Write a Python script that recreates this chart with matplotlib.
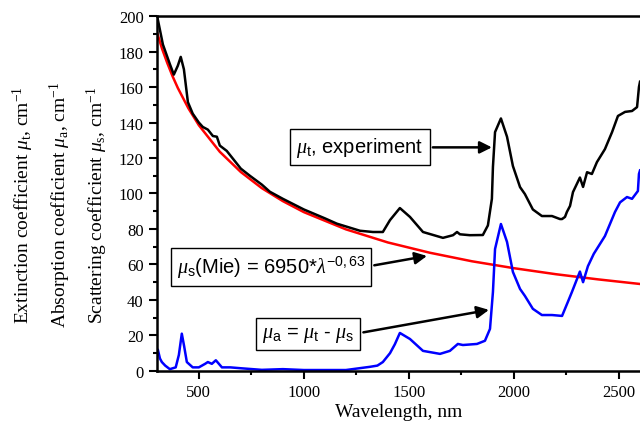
import matplotlib
matplotlib.use("Agg")
import matplotlib.pyplot as plt
from matplotlib.ticker import MultipleLocator

plt.rcParams['mathtext.fontset'] = 'custom'
plt.rcParams['mathtext.rm'] = 'Liberation Serif'
plt.rcParams['mathtext.it'] = 'Liberation Serif:italic'
plt.rcParams['mathtext.sf'] = 'Liberation Sans'

# extinction coefficient (experiment), black
wl_t = [300, 305, 329, 362, 381, 400, 414, 429, 448, 471, 500, 519, 543, 567, 586,
        600, 633, 700, 743, 800, 838, 900, 1000, 1100, 1157, 1267, 1329, 1376, 1410,
        1457, 1505, 1567, 1662, 1710, 1729, 1743, 1790, 1852, 1876, 1895, 1900, 1910,
        1938, 1967, 1995, 2029, 2052, 2090, 2133, 2181, 2219, 2229, 2243, 2252, 2267,
        2281, 2314, 2329, 2348, 2371, 2395, 2433, 2467, 2495, 2529, 2562, 2586, 2595,
        2600]
mu_t = [200, 198, 184, 173, 167, 172, 177, 170, 151.5, 145, 140, 137.5, 136, 132.4, 132,
        127, 124, 114, 110, 105, 101, 97, 91, 86, 83, 79, 78.3, 78.3, 85,
        91.8, 86.8, 78.3, 75, 76.5, 78.3, 77, 76.5, 76.6, 82, 97, 115, 134.6,
        142.3, 132, 115.5, 103.6, 99.7, 91, 87.3, 87.3, 85.6, 85.6, 86.8, 89.6, 93,
        100.8, 109, 103.7, 112, 111, 117.7, 125, 134.6, 143.7, 146, 146.5, 148.7, 160,
        163]

# absorption coefficient, blue
wl_a = [300, 305, 315, 324, 340, 362, 390, 405, 419, 430, 443, 471, 500, 530, 543,
        562, 581, 610, 650, 700, 800, 900, 1000, 1100, 1200, 1314, 1350, 1376, 1410,
        1433, 1457, 1505, 1567, 1648, 1695, 1733, 1757, 1824, 1862, 1886, 1900, 1910,
        1938, 1967, 1995, 2029, 2052, 2090, 2133, 2181, 2229, 2257, 2276, 2314, 2329,
        2352, 2380, 2433, 2481, 2505, 2538, 2562, 2590, 2595, 2600]
mu_a = [10, 12, 7, 5, 3, 1, 2, 9, 21, 14, 5, 2, 2, 4, 5,
        4, 6, 2, 2, 1.5, 0.6, 1, 0.5, 0.5, 0.5, 2.3, 3, 5, 10,
        15, 21.4, 18, 11.3, 9.6, 11.3, 15.2, 14.6, 15.2, 17, 23.7, 44.5, 68.7,
        82.8, 72.7, 55.8, 46.2, 42.3, 35, 31.5, 31.5, 31, 39, 44.5, 56, 50,
        59, 66, 76, 89.6, 95, 98, 97, 101.4, 111, 113]

# scattering coefficient (Mie fit), red
wl_s = [300, 325, 350, 375, 400, 450, 500, 600, 700, 800, 900, 1000, 1200, 1400,
        1600, 1800, 2000, 2200, 2400, 2600]
mu_s = [191.2, 181.6, 173.5, 166.1, 159.5, 148.1, 138.5, 123.5, 112.1, 103.0, 95.7,
        89.5, 79.8, 72.4, 66.6, 61.8, 57.9, 54.5, 51.6, 49.0]

fig = plt.figure(figsize=(6.4, 4.27), dpi=100)
ax = fig.add_axes([0.245, 0.129, 0.755, 0.831])

ax.plot(wl_s, mu_s, color='red', lw=1.8)
ax.plot(wl_t, mu_t, color='black', lw=1.8)
ax.plot(wl_a, mu_a, color='blue', lw=1.8)

ax.set_xlim(300, 2600)
ax.set_ylim(0, 200)
ax.xaxis.set_major_locator(MultipleLocator(500))
ax.xaxis.set_minor_locator(MultipleLocator(250))
ax.yaxis.set_major_locator(MultipleLocator(20))
ax.yaxis.set_minor_locator(MultipleLocator(10))
ax.tick_params(which='major', direction='out', length=6, width=1.5, labelsize=12)
ax.tick_params(which='minor', direction='out', length=3, width=1.5)
for lab in ax.get_xticklabels() + ax.get_yticklabels():
    lab.set_family('Liberation Serif')
for s in ['left', 'bottom', 'top']:
    ax.spines[s].set_linewidth(1.8)
ax.spines['right'].set_visible(False)

ax.set_xlabel('Wavelength, nm', family='Liberation Serif', fontsize=14, labelpad=2)

ylab = ['Extinction coefficient $\\mu_{\\mathrm{t}}$, cm$^{-1}$',
        'Absorption coefficient $\\mu_{\\mathrm{a}}$, cm$^{-1}$',
        'Scattering coefficient $\\mu_{\\mathrm{s}}$, cm$^{-1}$']
for xp, t in zip([0.037, 0.095, 0.152], ylab):
    fig.text(xp, 0.52, t, rotation=90, ha='center', va='center',
             family='Liberation Serif', fontsize=14)

box = dict(boxstyle='square,pad=0.3', fc='white', ec='black', lw=1)
arr = dict(arrowstyle='-|>', color='black', lw=1.8, mutation_scale=18,
           relpos=(1, 0.5), shrinkA=2, shrinkB=0)

ax.annotate('$\\mu_{\\mathsf{t}}$, experiment', xy=(1895, 126), xytext=(1267, 126),
            ha='center', va='center', family='Liberation Sans', fontsize=14.5,
            bbox=box, arrowprops=arr)
ax.annotate('$\\mu_{\\mathsf{s}}$(Mie) = 6950*$\\lambda^{\\mathsf{-0,63}}$',
            xy=(1586, 64.8), xytext=(843, 58.6),
            ha='center', va='center', family='Liberation Sans', fontsize=14.5,
            bbox=box, arrowprops=arr)
ax.annotate('$\\mu_{\\mathsf{a}}$ = $\\mu_{\\mathsf{t}}$ - $\\mu_{\\mathsf{s}}$',
            xy=(1881, 34.4), xytext=(1019, 20.8),
            ha='center', va='center', family='Liberation Sans', fontsize=14.5,
            bbox=box, arrowprops=arr)

fig.savefig('out.png', dpi=100)
